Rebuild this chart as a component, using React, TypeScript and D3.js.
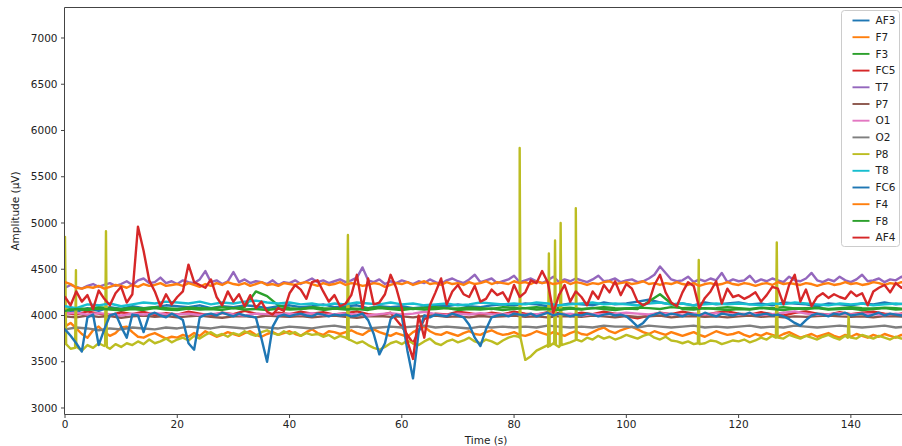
import React from "react";
import * as d3 from "d3";

// ---- data ----
const CHANNELS = ["AF3", "F7", "F3", "FC5", "T7", "P7", "O1", "O2", "P8", "T8", "FC6", "F4", "F8", "AF4"];
const COLORS = ["#1f77b4", "#ff7f0e", "#2ca02c", "#d62728", "#9467bd", "#8c564b", "#e377c2", "#7f7f7f", "#bcbd22", "#17becf", "#1f77b4", "#ff7f0e", "#2ca02c", "#d62728"];
// sampling interval (s) of each channel's value list below
const STEPS = [2, 1, 2, 2, 1, 2, 2, 2, 1, 2, 1, 1, 2, 1];
const X_TICKS = [0, 20, 40, 60, 80, 100, 120, 140];
const Y_TICKS = [3000, 3500, 4000, 4500, 5000, 5500, 6000, 6500, 7000];

const AF3 = [
  4060, 4040, 4080, 4050, 4090, 4070, 4100, 4080, 4090, 4110,
  4100, 4090, 4110, 4080, 4100, 4090, 4110, 4100, 4080, 4100,
  4110, 4090, 4100, 4120, 4090, 4100, 4110, 4080, 4100, 4090,
  4100, 4080, 4090, 4110, 4100, 4120, 4100, 4090, 4110, 4120,
  4110, 4130, 4120, 4100, 4110, 4130, 4120, 4110, 4140, 4120,
  4130, 4150, 4170, 4140, 4120, 4130, 4110, 4140, 4120, 4130,
  4140, 4120, 4130, 4110, 4140, 4130, 4120, 4100, 4130, 4120,
  4110, 4130, 4120, 4140, 4120, 4130,
];
const F7 = [
  3880, 3920, 3860, 3800, 3760, 3840, 3880, 3820, 3780, 3810,
  3870, 3880, 3820, 3770, 3760, 3790, 3810, 3780, 3750, 3770,
  3760, 3790, 3770, 3810, 3780, 3830, 3800, 3770, 3790, 3820,
  3800, 3780, 3810, 3830, 3790, 3770, 3800, 3820, 3790, 3810,
  3830, 3800, 3780, 3820, 3850, 3810, 3790, 3830, 3820, 3800,
  3820, 3840, 3810, 3790, 3830, 3850, 3820, 3800, 3780, 3810,
  3790, 3770, 3820, 3850, 3880, 3830, 3800, 3790, 3820, 3800,
  3780, 3810, 3830, 3800, 3790, 3820, 3840, 3810, 3790, 3800,
  3820, 3790, 3780, 3800, 3830, 3810, 3790, 3820, 3800, 3780,
  3810, 3830, 3800, 3790, 3820, 3850, 3870, 3830, 3810, 3840,
  3860, 3880, 3850, 3820, 3800, 3830, 3810, 3790, 3820, 3800,
  3780, 3800, 3820, 3790, 3770, 3800, 3830, 3810, 3790, 3800,
  3820, 3790, 3770, 3800, 3780, 3810, 3790, 3770, 3800, 3820,
  3790, 3760, 3780, 3800, 3770, 3790, 3810, 3780, 3760, 3790,
  3770, 3800, 3780, 3760, 3790, 3770, 3800, 3780, 3760, 3790, 3770,
];
const F3 = [
  4060, 4080, 4070, 4090, 4080, 4070, 4085, 4075, 4090, 4080,
  4070, 4085, 4080, 4075, 4090, 4080, 4090, 4260, 4210, 4110,
  4080, 4070, 4090, 4080, 4075, 4085, 4070, 4080, 4090, 4075,
  4080, 4070, 4085, 4090, 4080, 4075, 4085, 4080, 4070, 4090,
  4085, 4080, 4090, 4075, 4080, 4085, 4070, 4080, 4090, 4080,
  4075, 4085, 4080, 4070, 4090, 4080, 4085, 4075, 4080, 4090,
  4080, 4070, 4085, 4080, 4090, 4075, 4080, 4085, 4070, 4080,
  4090, 4080, 4075, 4085, 4080, 4070,
];
const FC5 = [
  4030, 4010, 4045, 4020, 4000, 4035, 4015, 4040, 4005, 4025,
  4010, 4040, 4020, 4000, 4030, 4015, 4050, 4020, 4005, 4030,
  4015, 4040, 4020, 4035, 4010, 4025, 4045, 4015, 4000, 4030,
  3880, 3700, 3960, 4020, 4010, 4040, 4025, 4005, 4030, 4015,
  4040, 4020, 4010, 4035, 4025, 4005, 4030, 4015, 4040, 4020,
  3990, 3970, 4000, 4030, 4015, 4040, 4020, 4005, 4030, 4045,
  4020, 4010, 4035, 4015, 4000, 4030, 4045, 4020, 4010, 4035,
  4015, 4030, 4040, 4020, 4010, 4030,
];
const T7 = [
  4300, 4330, 4310, 4290, 4320, 4340, 4310, 4330, 4350, 4320,
  4340, 4370, 4330, 4380, 4400, 4350, 4360, 4410, 4350, 4370,
  4340, 4380, 4360, 4350, 4390, 4480, 4360, 4380, 4340, 4370,
  4470, 4360, 4390, 4350, 4370, 4360, 4340, 4380, 4330, 4360,
  4350, 4380, 4340, 4370, 4400, 4360, 4380, 4350, 4370, 4390,
  4360, 4380, 4410, 4520, 4380, 4360, 4390, 4340, 4370, 4350,
  4380, 4360, 4340, 4370, 4350, 4390, 4360, 4340, 4380, 4400,
  4370, 4350, 4390, 4440, 4360, 4380, 4400, 4350, 4370, 4390,
  4430, 4360, 4380, 4400, 4370, 4350, 4380, 4420, 4360, 4390,
  4370, 4400, 4380, 4360, 4390, 4430, 4370, 4380, 4400, 4360,
  4380, 4390, 4360, 4370, 4400, 4440, 4530, 4460, 4390, 4370,
  4380, 4420, 4360, 4390, 4370, 4400, 4380, 4460, 4360, 4390,
  4370, 4380, 4430, 4360, 4390, 4370, 4400, 4380, 4360, 4420,
  4380, 4370, 4400, 4460, 4380, 4360, 4390, 4370, 4420, 4380,
  4360, 4390, 4440, 4370, 4380, 4400, 4360, 4390, 4380, 4420, 4370,
];
const P7 = [
  3990, 3980, 4000, 3985, 3995, 3975, 3990, 4000, 3985, 3995,
  3980, 3990, 4000, 3985, 3975, 3990, 3995, 3980, 4000, 3990,
  3985, 3995, 3980, 3990, 4000, 3985, 3975, 3990, 3995, 3985,
  3990, 3980, 3995, 4000, 3985, 3990, 3980, 3995, 3985, 3990,
  4000, 3985, 3990, 3980, 3995, 3990, 3985, 4000, 3990, 3980,
  3995, 3985, 3990, 4000, 3980, 3990, 3995, 3985, 3990, 3980,
  3990, 4000, 3985, 3995, 3980, 3990, 3985, 3995, 4000, 3990,
  3985, 3990, 3980, 3995, 3990, 3985,
];
const O1 = [
  4020, 4030, 4010, 4025, 4015, 4000, 4020, 4010, 4025, 4015,
  4010, 4020, 4005, 4015, 4025, 4010, 4000, 4020, 4015, 4010,
  4020, 4010, 4025, 4005, 4015, 4020, 4010, 4000, 4015, 4025,
  4010, 4020, 4040, 4015, 4005, 4020, 4010, 4025, 4015, 4010,
  4020, 4005, 4015, 4025, 4010, 4020, 4000, 4015, 4010, 4020,
  4030, 4020, 4010, 4025, 4015, 4005, 4020, 4010, 4025, 4015,
  4010, 4020, 4005, 4015, 4030, 4045, 4020, 4010, 4015, 4025,
  4010, 4020, 4015, 4005, 4020, 4010,
];
const O2 = [
  3850, 3870, 3860, 3840, 3860, 3850, 3870, 3860, 3850, 3870,
  3860, 3880, 3870, 3860, 3880, 3870, 3860, 3880, 3870, 3860,
  3880, 3870, 3860, 3880, 3890, 3870, 3880, 3860, 3870, 3880,
  3870, 3880, 3890, 3870, 3880, 3870, 3860, 3880, 3870, 3880,
  3870, 3880, 3870, 3890, 3880, 3870, 3880, 3870, 3890, 3880,
  3880, 3870, 3890, 3880, 3870, 3880, 3890, 3870, 3880, 3870,
  3880, 3890, 3870, 3880, 3870, 3890, 3880, 3870, 3880, 3890,
  3880, 3870, 3880, 3890, 3870, 3880,
];
const P8 = [
  4850, 3640, 3660, 3620, 3680, 3650, 3700, 3670, 3640, 3690,
  3660, 3700, 3680, 3720, 3690, 3740, 3700, 3720, 3750, 3710,
  3740, 3760, 3730, 3780, 3750, 3790, 3820, 3780, 3800, 3770,
  3810, 3790, 3830, 3800, 3780, 3820, 3840, 3810, 3790, 3830,
  3800, 3820, 3780, 3810, 3790, 3800, 3770, 3790, 3750, 3780,
  3760, 3730, 3700, 3720, 3680, 3650, 3630, 3660, 3700, 3720,
  3690, 3730, 3700, 3680, 3720, 3750, 3700, 3680, 3720, 3740,
  3710, 3730, 3760, 3720, 3700, 3740, 3720, 3690, 3730, 3760,
  3780, 3760, 3520, 3560, 3620, 3650, 3680, 3700, 3660, 3690,
  3710, 3740, 3720, 3760, 3740, 3780, 3750, 3770, 3740, 3760,
  3790, 3770, 3750, 3780, 3800, 3760, 3740, 3770, 3730, 3720,
  3700, 3720, 3690, 3710, 3700, 3730, 3720, 3690, 3710, 3730,
  3720, 3740, 3710, 3730, 3760, 3740, 3780, 3760, 3750, 3790,
  3770, 3750, 3780, 3760, 3740, 3770, 3790, 3760, 3740, 3780,
  3760, 3750, 3790, 3770, 3750, 3780, 3760, 3740, 3770, 3750, 3760,
];
// narrow artefact spikes of P8 (time, value)
const P8_SPIKE_T = [0.2, 1.8, 1.95, 2.1, 7.15, 7.3, 7.45, 50.25, 50.4, 50.55, 80.85, 81.0, 81.15, 86.05, 86.2, 86.35, 87.15, 87.3, 87.45, 88.15, 88.3, 88.45, 90.85, 91.0, 91.15, 112.75, 112.9, 113.05, 126.65, 126.8, 126.95, 139.45, 139.6, 139.75];
const P8_SPIKE_V = [3690, 3650, 4490, 3660, 3680, 4910, 3660, 3750, 4870, 3740, 3770, 5810, 3760, 3660, 4670, 3670, 3690, 4810, 3680, 3670, 5000, 3680, 3730, 5160, 3740, 3700, 4600, 3690, 3760, 4790, 3770, 3760, 4010, 3770];
const T8 = [
  4100, 4080, 4120, 4110, 4130, 4100, 4120, 4140, 4130, 4150,
  4140, 4130, 4150, 4120, 4140, 4130, 4150, 4160, 4140, 4130,
  4140, 4120, 4130, 4110, 4130, 4120, 4140, 4130, 4120, 4140,
  4120, 4130, 4110, 4120, 4130, 4110, 4120, 4140, 4130, 4120,
  4130, 4120, 4140, 4130, 4110, 4120, 4130, 4140, 4120, 4130,
  4120, 4110, 4130, 4140, 4120, 4130, 4110, 4120, 4130, 4120,
  4130, 4120, 4110, 4130, 4120, 4140, 4130, 4120, 4110, 4130,
  4120, 4130, 4110, 4120, 4130, 4120,
];
const FC6 = [
  3850, 3780, 3700, 3610, 3980, 4010, 3680, 3850, 4000, 4020,
  3880, 3760, 4010, 4000, 3820, 4010, 4030, 4000, 3980, 4020,
  3990, 3950, 3700, 3630, 3980, 4010, 4020, 4000, 4030, 4010,
  3990, 4020, 4000, 3990, 3980, 3750, 3500, 3880, 3990, 4010,
  3990, 4010, 4020, 4000, 3990, 4020, 4010, 3990, 4010, 4000,
  4010, 3990, 4000, 4020, 3950, 3800, 3580, 3700, 3960, 4010,
  3990, 3620, 3320, 3820, 4000, 3980, 4010, 4000, 3990, 4020,
  4000, 3980, 3900, 3760, 3670, 3850, 3980, 4000, 4010, 3990,
  4020, 4010, 4000, 4020, 3990, 4010, 4030, 4000, 4020, 4010,
  3990, 4010, 4000, 4020, 4010, 3990, 4010, 4020, 4000, 4010,
  3990, 3940, 3880, 3920, 3990, 4010, 4030, 4000, 4020, 4010,
  3990, 4020, 4010, 4000, 4030, 4010, 3990, 4020, 4010, 4000,
  4020, 4010, 4030, 4000, 4010, 4020, 4000, 4010, 3990, 3960,
  3920, 3890, 3950, 4000, 4020, 4010, 3990, 4020, 4010, 4030,
  4000, 4010, 4020, 3990, 4010, 4030, 4000, 4020, 4010, 4000, 4020,
];
const F4 = [
  4360, 4340, 4300, 4290, 4310, 4300, 4320, 4290, 4310, 4330,
  4320, 4300, 4330, 4310, 4340, 4320, 4330, 4350, 4320, 4330,
  4340, 4320, 4350, 4330, 4310, 4340, 4320, 4350, 4330, 4360,
  4340, 4330, 4350, 4320, 4340, 4360, 4330, 4340, 4320, 4350,
  4340, 4330, 4350, 4360, 4340, 4320, 4350, 4330, 4340, 4360,
  4330, 4350, 4340, 4320, 4330, 4350, 4340, 4310, 4330, 4350,
  4340, 4360, 4330, 4350, 4370, 4340, 4350, 4330, 4360, 4340,
  4350, 4330, 4360, 4340, 4350, 4370, 4340, 4360, 4350, 4340,
  4370, 4350, 4360, 4340, 4370, 4350, 4360, 4340, 4350, 4370,
  4340, 4360, 4350, 4330, 4350, 4340, 4360, 4370, 4340, 4350,
  4360, 4340, 4350, 4370, 4340, 4350, 4330, 4350, 4340, 4360,
  4340, 4330, 4350, 4320, 4340, 4350, 4330, 4340, 4360, 4340,
  4330, 4350, 4340, 4320, 4340, 4350, 4330, 4360, 4340, 4350,
  4340, 4330, 4350, 4340, 4320, 4340, 4350, 4330, 4340, 4360,
  4340, 4350, 4330, 4340, 4360, 4350, 4330, 4350, 4340, 4360, 4350,
];
const F8 = [
  4050, 4070, 4060, 4075, 4065, 4055, 4070, 4060, 4080, 4065,
  4060, 4075, 4065, 4070, 4060, 4080, 4065, 4070, 4060, 4075,
  4065, 4070, 4080, 4060, 4075, 4065, 4070, 4060, 4080, 4070,
  4060, 4075, 4065, 4070, 4080, 4060, 4070, 4065, 4075, 4060,
  4070, 4080, 4065, 4070, 4060, 4075, 4065, 4080, 4070, 4060,
  4075, 4070, 4150, 4230, 4130, 4070, 4065, 4080, 4070, 4060,
  4070, 4065, 4080, 4070, 4060, 4075, 4070, 4080, 4065, 4070,
  4075, 4060, 4070, 4080, 4065, 4070,
];
const AF4 = [
  4200, 4110, 4260, 4150, 4220, 4070, 4270, 4180, 4110, 4240,
  4310, 4140, 4230, 4960, 4700, 4380, 4260, 4100, 4230, 4120,
  4200, 4260, 4550, 4360, 4330, 4300, 4390, 4200, 4110, 4260,
  4150, 4230, 4100, 4220, 4080, 4150, 4040, 4010, 4080, 4050,
  4240, 4330, 4280, 4180, 4360, 4380, 4260, 4150, 4220, 4100,
  4130, 4220, 4440, 4080, 4400, 4120, 4140, 4230, 4440, 4300,
  4080, 3720, 3530, 4000, 3760, 4110, 4250, 4400, 4120, 4260,
  4330, 4230, 4200, 4320, 4150, 4180, 4280, 4220, 4250, 4150,
  4330, 4200, 4250, 4380, 4350, 4480, 4360, 4030, 4220, 4330,
  4150, 4260, 4200, 4110, 4260, 4180, 4330, 4250, 4370, 4220,
  4340, 4290, 4150, 4110, 4140, 4330, 4440, 4250, 4140, 4100,
  4250, 4360, 4320, 4080, 4190, 4260, 4370, 4130, 4290, 4200,
  4220, 4180, 4210, 4250, 4150, 4220, 4310, 4290, 4120, 4330,
  4440, 4150, 4280, 4100, 4200, 4240, 4190, 4230, 4200, 4180,
  4260, 4210, 4240, 4110, 4260, 4300, 4330, 4250, 4350, 4300, 4320,
];

const VALUES = [AF3, F7, F3, FC5, T7, P7, O1, O2, P8, T8, FC6, F4, F8, AF4];

const W = 902;
const H = 446;
const FONT = "'DejaVu Sans', sans-serif";

export default function App() {
  const x = d3.scaleLinear().domain([0, 150]).range([65, 907]);
  const y = d3.scaleLinear().domain([2935, 7335]).range([414, 7]);
  const left = 64.5;
  const bottom = 414.5;
  const top = 7.5;

  const line = d3
    .line<[number, number]>()
    .x((d) => x(d[0]))
    .y((d) => y(d[1]));

  const series = CHANNELS.map((name, i) => {
    const step = STEPS[i];
    let pts: [number, number][] = VALUES[i].map((v, k) => [k * step, v] as [number, number]);
    if (name === "P8") {
      const extra = P8_SPIKE_T.map((t, k) => [t, P8_SPIKE_V[k]] as [number, number]);
      pts = pts.concat(extra).sort((a, b) => a[0] - b[0]);
    }
    return { name, color: COLORS[i], d: line(pts) || "" };
  });

  const legX = 841.5;
  const legY = 10.5;
  const rowH = 16.7;

  return (
    <svg
      width={W}
      height={H}
      style={{ position: "absolute", left: 0, top: 0, background: "#fff" }}
      fontFamily={FONT}
    >
      <defs>
        <clipPath id="plot">
          <rect x={left} y={top} width={907 - left} height={bottom - top} />
        </clipPath>
      </defs>
      <rect x={0} y={0} width={W} height={H} fill="#fff" />
      <g clipPath="url(#plot)">
        {series.map((s) => (
          <path
            key={s.name}
            d={s.d}
            fill="none"
            stroke={s.color}
            strokeWidth={2.4}
            strokeLinejoin="round"
            strokeLinecap="round"
          />
        ))}
      </g>
      {/* spines */}
      <line x1={left} x2={left} y1={top} y2={bottom} stroke="#444" strokeWidth={1} />
      <line x1={left} x2={W} y1={bottom} y2={bottom} stroke="#444" strokeWidth={1} />
      <line x1={left} x2={W} y1={top} y2={top} stroke="#444" strokeWidth={1} />
      {/* y ticks */}
      {Y_TICKS.map((t) => (
        <g key={t}>
          <line x1={left - 3.5} x2={left} y1={y(t)} y2={y(t)} stroke="#444" />
          <text x={left - 7} y={y(t)} dy="0.35em" textAnchor="end" fontSize={10.5} fill="#222">
            {t}
          </text>
        </g>
      ))}
      {/* x ticks */}
      {X_TICKS.map((t) => (
        <g key={t}>
          <line x1={x(t)} x2={x(t)} y1={bottom} y2={bottom + 3.5} stroke="#444" />
          <text x={x(t)} y={bottom + 13} textAnchor="middle" fontSize={10.5} fill="#222">
            {t}
          </text>
        </g>
      ))}
      <text x={486} y={444} textAnchor="middle" fontSize={10.5} fill="#222">
        Time (s)
      </text>
      <text
        transform={`translate(19,${(top + bottom) / 2}) rotate(-90)`}
        textAnchor="middle"
        fontSize={10.5}
        fill="#222"
      >
        Amplitude (μV)
      </text>
      {/* legend */}
      <rect
        x={legX}
        y={legY}
        width={58}
        height={236}
        rx={3}
        fill="#fff"
        fillOpacity={0.8}
        stroke="#ccc"
        strokeWidth={1}
      />
      {CHANNELS.map((name, i) => {
        const cy = legY + 10 + i * rowH;
        return (
          <g key={name}>
            <line x1={legX + 11} x2={legX + 28} y1={cy} y2={cy} stroke={COLORS[i]} strokeWidth={1.9} />
            <text x={legX + 34} y={cy} dy="0.35em" fontSize={10.5} fill="#222">
              {name}
            </text>
          </g>
        );
      })}
    </svg>
  );
}
